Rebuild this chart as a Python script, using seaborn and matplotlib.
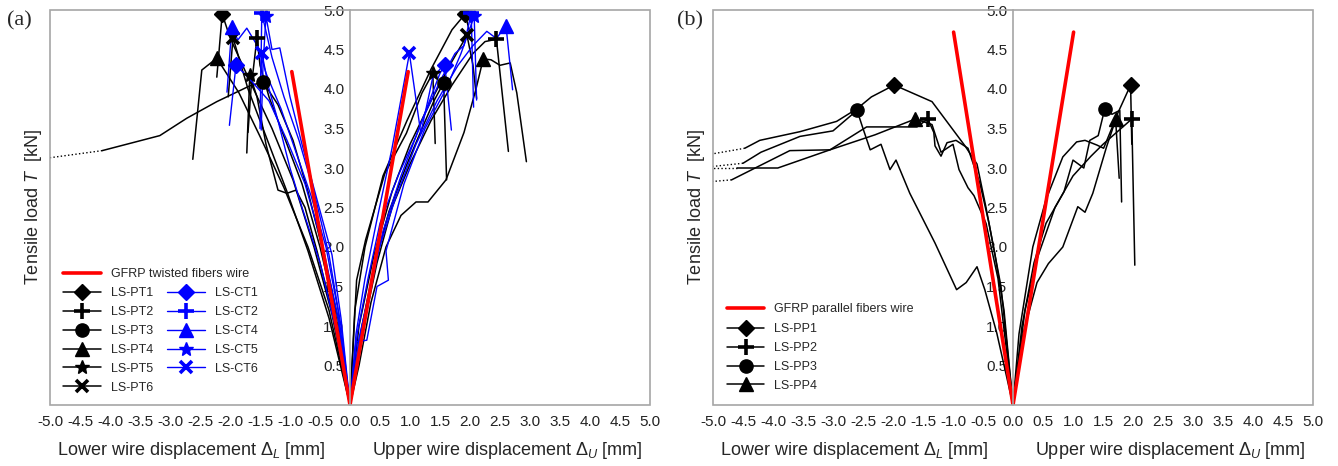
import numpy as np
import matplotlib
matplotlib.use('Agg')
import matplotlib.pyplot as plt
from matplotlib.lines import Line2D
import seaborn as sns

sns.set_style('white')
plt.rcParams['font.family'] = ['Liberation Sans', 'DejaVu Sans']
plt.rcParams['mathtext.fontset'] = 'custom'
plt.rcParams['mathtext.rm'] = 'Liberation Sans'
plt.rcParams['mathtext.it'] = 'Liberation Sans:italic'

# ---- panel (a): twisted fibers wire, (x = displacement mm, y = load kN) ----
gfrp_tw_lower = [(0, 0), (-0.97, 4.22)]
gfrp_tw_upper = [(0, 0), (0.97, 4.22)]

pt1_lower = [(0, 0), (-0.3, 1.15), (-0.6, 2.0), (-0.95, 2.85), (-1.3, 3.5), (-1.7, 4.15),
             (-2.0, 4.65), (-2.13, 4.95), (-2.18, 4.5), (-2.22, 4.15)]
pt2_lower = [(0, 0), (-0.25, 1.2), (-0.5, 2.0), (-0.8, 2.8), (-1.1, 3.4), (-1.35, 3.9),
             (-1.5, 4.3), (-1.55, 4.65), (-1.65, 4.0), (-1.7, 3.45)]
pt3_lower = [(0, 0), (-0.2, 1.1), (-0.45, 1.95), (-0.7, 2.7), (-0.95, 3.35), (-1.2, 3.8),
             (-1.45, 4.09), (-1.67, 4.04), (-2.22, 3.84), (-2.72, 3.63), (-3.17, 3.41),
             (-4.13, 3.22)]
pt3_lower_dot = [(-4.13, 3.22), (-5.0, 3.13)]
pt4_lower = [(0, 0), (-0.35, 1.2), (-0.7, 2.0), (-1.1, 2.75), (-1.5, 3.4), (-1.85, 3.95),
             (-2.22, 4.39), (-2.47, 4.24), (-2.62, 3.11)]
pt5_lower = [(0, 0), (-0.3, 1.2), (-0.55, 1.95), (-0.75, 2.5), (-0.9, 2.72), (-1.05, 2.68),
             (-1.2, 2.72), (-1.4, 3.3), (-1.55, 3.9), (-1.67, 4.18), (-1.72, 3.19)]
pt6_lower = [(0, 0), (-0.35, 1.1), (-0.7, 1.95), (-1.05, 2.7), (-1.4, 3.4), (-1.7, 4.0),
             (-1.95, 4.65), (-2.03, 3.9)]

ct1_lower = [(0, 0), (-0.2, 1.1), (-0.45, 2.0), (-0.75, 2.8), (-1.05, 3.35), (-1.35, 3.85),
             (-1.7, 4.15), (-1.9, 4.3), (-2.01, 3.54)]
ct2_lower = [(0, 0), (-0.15, 1.0), (-0.35, 1.9), (-0.6, 2.7), (-0.85, 3.35), (-1.1, 3.9),
             (-1.3, 4.4), (-1.47, 4.96), (-1.5, 3.5)]
ct4_lower = [(0, 0), (-0.2, 1.2), (-0.4, 2.0), (-0.65, 2.65), (-0.9, 3.2), (-1.15, 3.75),
             (-1.4, 4.2), (-1.53, 4.53), (-1.72, 4.77), (-1.87, 4.62), (-1.97, 4.78),
             (-2.05, 3.96)]
ct5_lower = [(0, 0), (-0.15, 1.1), (-0.3, 1.9), (-0.55, 2.6), (-0.8, 3.3), (-1.0, 3.9),
             (-1.17, 4.52), (-1.3, 4.5), (-1.4, 4.92), (-1.45, 4.3), (-1.48, 3.48)]
ct6_lower = [(0, 0), (-0.25, 1.0), (-0.5, 1.8), (-0.8, 2.5), (-1.0, 3.0), (-1.2, 3.6),
             (-1.35, 4.0), (-1.47, 4.46), (-1.5, 4.0)]

pt1_upper = [(0, 0), (0.08, 1.2), (0.25, 2.0), (0.55, 2.9), (0.95, 3.6), (1.35, 4.25),
             (1.7, 4.75), (1.92, 4.95), (2.0, 4.7)]
pt2_upper = [(0, 0), (0.2, 0.9), (0.45, 1.8), (0.7, 2.5), (1.0, 3.05), (1.35, 3.6),
             (1.7, 4.05), (2.05, 4.45), (2.25, 4.6), (2.44, 4.63), (2.64, 3.21)]
pt3_upper = [(0, 0), (0.2, 1.0), (0.4, 1.75), (0.65, 2.45), (0.95, 3.05), (1.2, 3.5),
             (1.4, 3.85), (1.56, 4.08), (1.61, 2.85)]
pt4_upper = [(0, 0), (0.15, 0.5), (0.35, 1.3), (0.6, 2.0), (0.85, 2.4), (1.1, 2.57),
             (1.3, 2.57), (1.6, 2.85), (1.9, 3.45), (2.1, 4.0), (2.22, 4.38), (2.35, 4.37),
             (2.5, 4.3), (2.67, 4.33), (2.78, 3.95), (2.94, 3.08)]
pt5_upper = [(0, 0), (0.11, 1.58), (0.26, 2.09), (0.58, 2.93), (0.94, 3.44), (1.2, 3.95),
             (1.38, 4.2), (1.42, 3.31)]
pt6_upper = [(0, 0), (0.15, 1.0), (0.4, 1.9), (0.7, 2.7), (1.0, 3.3), (1.35, 3.85),
             (1.7, 4.35), (1.95, 4.68), (2.05, 4.3), (2.11, 3.88)]

ct1_upper = [(0, 0), (0.12, 0.9), (0.3, 1.6), (0.5, 2.3), (0.8, 2.9), (1.1, 3.4),
             (1.35, 3.9), (1.5, 4.2), (1.58, 4.3), (1.69, 3.48)]
ct2_upper = [(0, 0), (0.15, 0.85), (0.35, 1.5), (0.55, 2.2), (0.85, 2.9), (1.2, 3.6),
             (1.5, 4.1), (1.75, 4.45), (1.9, 4.55), (2.02, 4.96), (2.06, 3.77)]
ct4_upper = [(0, 0), (0.2, 1.0), (0.45, 1.9), (0.75, 2.6), (1.1, 3.3), (1.45, 3.85),
             (1.8, 4.3), (2.05, 4.55), (2.28, 4.73), (2.44, 4.64), (2.6, 4.8), (2.71, 3.99)]
ct5_upper = [(0, 0), (0.1, 0.8), (0.28, 0.82), (0.45, 1.5), (0.64, 1.58), (0.6, 1.95),
             (0.9, 2.8), (1.25, 3.5), (1.6, 4.0), (1.85, 4.45), (2.07, 4.92), (2.11, 3.86)]
ct6_upper = [(0, 0), (0.1, 0.9), (0.25, 1.6), (0.45, 2.35), (0.7, 3.25), (0.99, 4.45),
             (1.18, 3.44), (1.38, 4.15), (1.5, 4.25)]

# ---- panel (b): parallel fibers wire ----
gfrp_par_lower = [(0, 0), (-0.99, 4.72)]
gfrp_par_upper = [(0, 0), (1.01, 4.72)]

pp1_lower = [(0, 0), (-0.15, 1.2), (-0.3, 1.9), (-0.45, 2.5), (-0.6, 3.05), (-0.8, 3.28),
             (-1.35, 3.84), (-1.98, 4.05), (-2.36, 3.9), (-2.6, 3.75), (-2.94, 3.59),
             (-3.55, 3.46), (-4.22, 3.35), (-4.47, 3.25)]
pp1_lower_dot = [(-4.47, 3.25), (-5.0, 3.18)]
pp2_lower = [(0, 0), (-0.2, 1.5), (-0.4, 2.3), (-0.55, 2.8), (-0.75, 3.25), (-0.95, 3.35),
             (-1.1, 3.32), (-1.2, 3.15), (-1.3, 3.28), (-1.32, 3.45), (-1.42, 3.62),
             (-1.6, 3.52), (-2.44, 3.52), (-3.05, 3.23), (-3.92, 3.0), (-4.6, 3.0)]
pp2_lower_dot = [(-4.6, 3.0), (-5.0, 3.0)]
pp3_lower = [(0, 0), (-0.27, 0.91), (-0.47, 1.46), (-0.6, 1.75), (-0.78, 1.55),
             (-0.94, 1.46), (-1.3, 2.05), (-1.72, 2.68), (-1.95, 3.1), (-2.05, 2.98),
             (-2.2, 3.3), (-2.38, 3.23), (-2.5, 3.5), (-2.6, 3.73), (-3.0, 3.47),
             (-3.55, 3.4), (-4.2, 3.2), (-4.5, 3.06)]
pp3_lower_dot = [(-4.5, 3.06), (-5.0, 3.02)]
pp4_lower = [(0, 0), (-0.25, 1.6), (-0.45, 2.3), (-0.65, 2.65), (-0.75, 2.75), (-0.9, 2.98),
             (-1.0, 3.3), (-1.2, 3.2), (-1.35, 3.55), (-1.63, 3.62), (-2.3, 3.42),
             (-3.05, 3.23), (-3.72, 3.22), (-4.69, 2.85)]
pp4_lower_dot = [(-4.69, 2.85), (-5.0, 2.83)]

pp1_upper = [(0, 0), (0.15, 0.85), (0.4, 1.55), (0.59, 1.79), (0.83, 2.0), (1.08, 2.51),
             (1.2, 2.44), (1.33, 2.68), (1.56, 3.27), (1.75, 3.7), (1.96, 4.05), (1.98, 3.3)]
pp2_upper = [(0, 0), (0.2, 1.2), (0.4, 1.85), (0.7, 2.5), (1.0, 2.9), (1.3, 3.15),
             (1.5, 3.3), (1.98, 3.62), (2.03, 1.77)]
pp3_upper = [(0, 0), (0.15, 1.0), (0.35, 1.8), (0.55, 2.3), (0.85, 2.7), (1.0, 3.1),
             (1.18, 3.0), (1.28, 3.35), (1.42, 3.41), (1.53, 3.75), (1.65, 3.68),
             (1.78, 3.73), (1.81, 2.57)]
pp4_upper = [(0, 0), (0.1, 0.9), (0.33, 2.0), (0.55, 2.6), (0.83, 3.14), (1.06, 3.33),
             (1.2, 3.35), (1.4, 3.29), (1.51, 3.25), (1.71, 3.62), (1.77, 2.87)]

pt_names = ['LS-PT1', 'LS-PT2', 'LS-PT3', 'LS-PT4', 'LS-PT5', 'LS-PT6']
ct_names = ['LS-CT1', 'LS-CT2', 'LS-CT4', 'LS-CT5', 'LS-CT6']
pp_names = ['LS-PP1', 'LS-PP2', 'LS-PP3', 'LS-PP4']

BLUE = '#0000ff'
RED = '#ff0000'
GRAY = '#a6a6a6'

mk = {1: dict(marker='D', ms=8), 2: dict(marker='+', ms=11, mew=2.6),
      3: dict(marker='o', ms=9.5), 4: dict(marker='^', ms=9.5),
      5: dict(marker='*', ms=10.5), 6: dict(marker='x', ms=9, mew=2.6)}
ct_mk = [1, 2, 4, 5, 6]


def draw(ax, pts, color, lw, mark=None, ls='-'):
    xs = [p[0] for p in pts]
    ys = [p[1] for p in pts]
    sns.lineplot(x=xs, y=ys, sort=False, estimator=None, color=color, lw=lw,
                 linestyle=ls, legend=False, ax=ax)
    if mark is not None:
        i = int(np.argmax(ys))
        ax.plot(xs[i], ys[i], color=color, ls='none', zorder=5, **mk[mark])


def style(ax):
    ax.set_xlim(-5, 5)
    ax.set_ylim(0, 5)
    for s in ['top', 'right', 'bottom']:
        ax.spines[s].set_visible(False)
    ax.spines['left'].set_position(('data', 0))
    ax.spines['left'].set_color(GRAY)
    ax.spines['left'].set_linewidth(1.2)
    ax.add_patch(plt.Rectangle((0, 0), 1, 1, transform=ax.transAxes, fill=False,
                               ec=GRAY, lw=1.2, clip_on=False, zorder=6))
    xt = np.arange(-5, 5.01, 0.5)
    ax.set_xticks(xt)
    ax.set_xticklabels([f'{v:.1f}' for v in xt])
    ax.set_xticks(np.arange(-5, 5.01, 0.25), minor=True)
    yt = np.arange(0.5, 5.01, 0.5)
    ax.set_yticks(yt)
    ax.set_yticklabels([f'{v:.1f}' for v in yt])
    ax.set_yticks(np.arange(0, 5.01, 0.1), minor=True)
    ax.tick_params(axis='both', which='both', direction='in', color=GRAY,
                   labelcolor='#222222', labelsize=11)
    ax.tick_params(axis='x', which='major', length=6, width=1, pad=7)
    ax.tick_params(axis='x', which='minor', length=4, width=1)
    ax.tick_params(axis='y', which='major', length=6, width=1, pad=4)
    ax.tick_params(axis='y', which='minor', length=3, width=0.8)
    ax.set_xlabel('')
    ax.set_ylabel('')
    ax.text(-0.028, 0.5, r'Tensile load $\mathit{T}$  [kN]', rotation=90, fontsize=13,
            transform=ax.transAxes, ha='center', va='center')
    ax.text(0.235, -0.114, r'Lower wire displacement $\Delta_{\mathit{L}}$ [mm]', fontsize=13,
            transform=ax.transAxes, ha='center', va='center')
    ax.text(0.763, -0.114, r'Upper wire displacement $\Delta_{\mathit{U}}$ [mm]', fontsize=13,
            transform=ax.transAxes, ha='center', va='center')


fig = plt.figure(figsize=(13.38, 4.66), dpi=100)
axa = fig.add_axes([50 / 1338, 61 / 466, 600 / 1338, 395 / 466])
axb = fig.add_axes([713 / 1338, 61 / 466, 600 / 1338, 395 / 466])

# panel (a)
pt_lower = [pt1_lower, pt2_lower, pt3_lower, pt4_lower, pt5_lower, pt6_lower]
pt_upper = [pt1_upper, pt2_upper, pt3_upper, pt4_upper, pt5_upper, pt6_upper]
ct_lower = [ct1_lower, ct2_lower, ct4_lower, ct5_lower, ct6_lower]
ct_upper = [ct1_upper, ct2_upper, ct4_upper, ct5_upper, ct6_upper]
for k, (lo, up) in enumerate(zip(pt_lower, pt_upper)):
    draw(axa, lo, 'black', 1.1, k + 1)
    draw(axa, up, 'black', 1.1, k + 1)
draw(axa, pt3_lower_dot, 'black', 1.0, ls=':')
for k, (lo, up) in enumerate(zip(ct_lower, ct_upper)):
    draw(axa, lo, BLUE, 1.0, ct_mk[k])
    draw(axa, up, BLUE, 1.0, ct_mk[k])
draw(axa, gfrp_tw_lower, RED, 2.6)
draw(axa, gfrp_tw_upper, RED, 2.6)
style(axa)

# panel (b)
pp_lower = [pp1_lower, pp2_lower, pp3_lower, pp4_lower]
pp_upper = [pp1_upper, pp2_upper, pp3_upper, pp4_upper]
pp_dot = [pp1_lower_dot, pp2_lower_dot, pp3_lower_dot, pp4_lower_dot]
for k, (lo, up, dt) in enumerate(zip(pp_lower, pp_upper, pp_dot)):
    draw(axb, lo, 'black', 1.1, k + 1)
    draw(axb, up, 'black', 1.1, k + 1)
    draw(axb, dt, 'black', 1.0, ls=':')
draw(axb, gfrp_par_lower, RED, 2.6)
draw(axb, gfrp_par_upper, RED, 2.6)
style(axb)

# legends
leg_kw = dict(frameon=False, fontsize=9, handlelength=3, handletextpad=0.8,
              borderpad=0, borderaxespad=0, labelspacing=0.55, loc='upper left')


def handle(color, m=None, lw=1.1):
    if m is None:
        return Line2D([], [], color=color, lw=lw)
    return Line2D([], [], color=color, lw=lw, **mk[m])


l1 = axa.legend([handle(RED, lw=2.6)], ['GFRP twisted fibers wire'],
                bbox_to_anchor=(0.0217, 0.346), **leg_kw)
axa.add_artist(l1)
l2 = axa.legend([handle('black', i + 1) for i in range(6)], pt_names,
                bbox_to_anchor=(0.0217, 0.298), **leg_kw)
axa.add_artist(l2)
axa.legend([handle(BLUE, m, 1.0) for m in ct_mk], ct_names,
           bbox_to_anchor=(0.195, 0.298), **leg_kw)

l3 = axb.legend([handle(RED, lw=2.6)], ['GFRP parallel fibers wire'],
                bbox_to_anchor=(0.023, 0.258), **leg_kw)
axb.add_artist(l3)
axb.legend([handle('black', i + 1) for i in range(4)], pp_names,
           bbox_to_anchor=(0.023, 0.207), **leg_kw)

fig.text(7 / 1338, 1 - 21 / 466, '(a)', fontsize=16, family='Liberation Serif', va='center')
fig.text(677 / 1338, 1 - 21 / 466, '(b)', fontsize=16, family='Liberation Serif', va='center')

fig.savefig('out.png', dpi=100)
